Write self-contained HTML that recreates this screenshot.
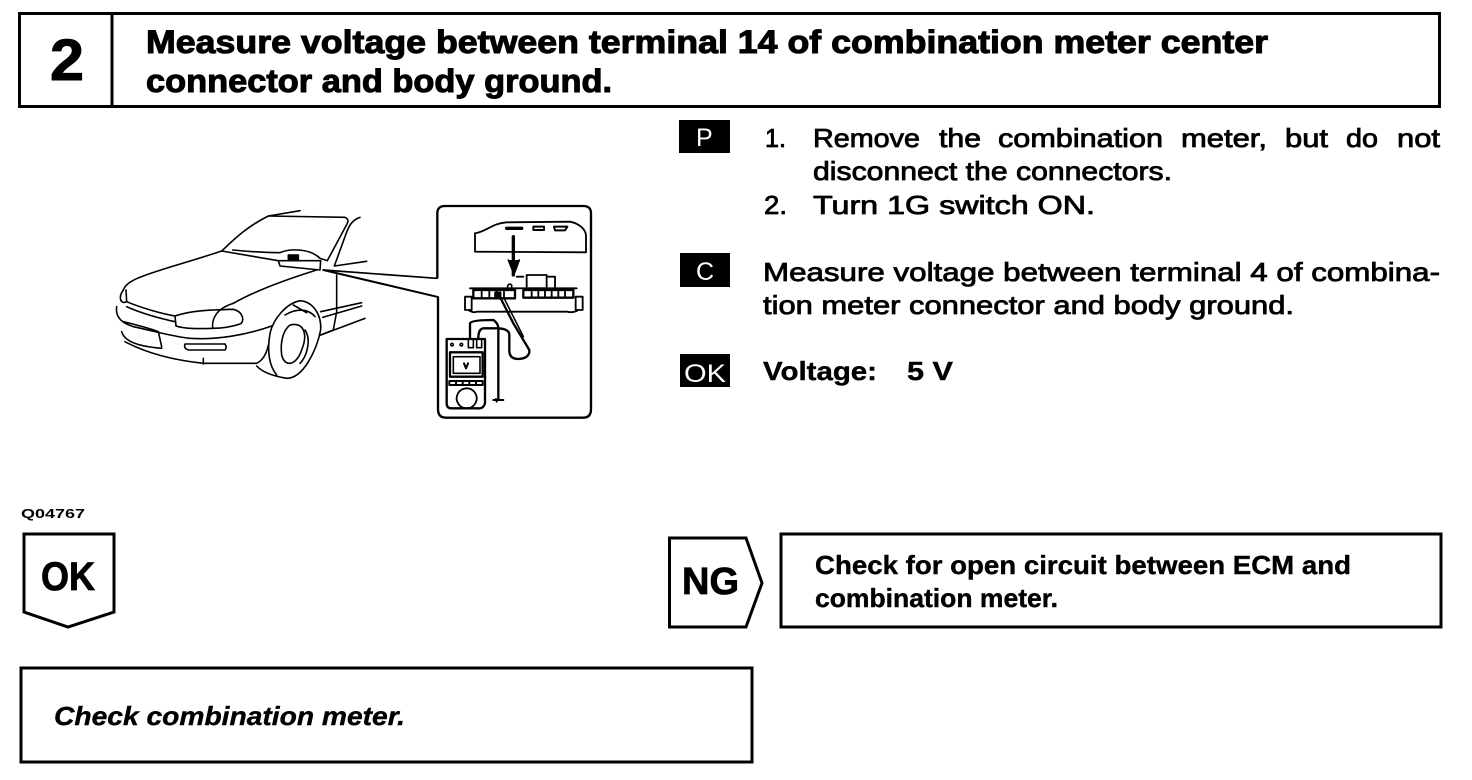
<!DOCTYPE html>
<html><head><meta charset="utf-8"><title>Step 2</title>
<style>
html,body{margin:0;padding:0;background:#fff;width:1472px;height:780px;overflow:hidden}
svg{display:block}
text{font-family:"Liberation Sans",sans-serif;fill:#000}
.t{font-weight:700;font-size:32px;stroke:#000;stroke-width:1px}
.b{font-size:26px;stroke:#000;stroke-width:.8px}
.n{font-weight:700;font-size:26px;stroke:#000;stroke-width:.4px}
.w{fill:#fff;font-size:25px}
.car path{fill:none;stroke:#000;stroke-width:4.8;stroke-linecap:round;stroke-linejoin:round}
</style></head><body>
<svg width="1472" height="780" viewBox="0 0 1472 780" xmlns="http://www.w3.org/2000/svg">
<rect width="1472" height="780" fill="#fff"/>
<g fill="none" stroke="#000" stroke-width="3">
<rect x="19.500" y="13.500" width="1420" height="93"/>
<path d="M112 14V106"/>
<path d="M24 534H114V612L68 627 24 612Z"/>
<path d="M669.500 538H746L762 583 746 627H669.500Z"/>
<rect x="781" y="534" width="660" height="93"/>
<rect x="21" y="668" width="731" height="94"/>
</g>
<text x="50" y="80" font-size="58" font-weight="700" textLength="34" lengthAdjust="spacingAndGlyphs" stroke="#000" stroke-width="1">2</text>
<text class="t" x="146" y="53" textLength="1122" lengthAdjust="spacingAndGlyphs">Measure voltage between terminal 14 of combination meter center</text>
<text class="t" x="146" y="92" textLength="466" lengthAdjust="spacingAndGlyphs">connector and body ground.</text>

<rect x="679" y="120" width="51" height="33"/>
<rect x="680" y="253" width="50" height="34"/>
<rect x="680" y="354" width="50" height="33"/>
<text class="w" x="696" y="146">P</text>
<text class="w" x="696" y="280">C</text>
<text class="w" x="684" y="382" textLength="42" lengthAdjust="spacingAndGlyphs">OK</text>

<text class="b" x="765" y="147" textLength="21" lengthAdjust="spacingAndGlyphs">1.</text>
<text class="b" x="813" y="147" textLength="107" lengthAdjust="spacingAndGlyphs">Remove</text>
<text class="b" x="939" y="147" textLength="42" lengthAdjust="spacingAndGlyphs">the</text>
<text class="b" x="998" y="147" textLength="165" lengthAdjust="spacingAndGlyphs">combination</text>
<text class="b" x="1181" y="147" textLength="86" lengthAdjust="spacingAndGlyphs">meter,</text>
<text class="b" x="1285" y="147" textLength="43" lengthAdjust="spacingAndGlyphs">but</text>
<text class="b" x="1346" y="147" textLength="32" lengthAdjust="spacingAndGlyphs">do</text>
<text class="b" x="1397" y="147" textLength="43" lengthAdjust="spacingAndGlyphs">not</text>
<text class="b" x="813" y="180" textLength="359" lengthAdjust="spacingAndGlyphs">disconnect the connectors.</text>
<text class="b" x="764" y="214" textLength="23" lengthAdjust="spacingAndGlyphs">2.</text>
<text class="b" x="813" y="214" textLength="282" lengthAdjust="spacingAndGlyphs">Turn 1G switch ON.</text>
<text class="b" x="763" y="281" textLength="677" lengthAdjust="spacingAndGlyphs">Measure voltage between terminal 4 of combina-</text>
<text class="b" x="763" y="314" textLength="531" lengthAdjust="spacingAndGlyphs">tion meter connector and body ground.</text>
<text class="n" x="763" y="380" textLength="114" lengthAdjust="spacingAndGlyphs">Voltage:</text>
<text class="n" x="907" y="380" textLength="46" lengthAdjust="spacingAndGlyphs">5 V</text>

<text x="21" y="518" font-size="13" font-weight="700" textLength="64" lengthAdjust="spacingAndGlyphs">Q04767</text>
<text x="41" y="590" font-size="40" font-weight="700" textLength="54" lengthAdjust="spacingAndGlyphs" stroke="#000" stroke-width=".8">OK</text>
<text x="682" y="594" font-size="38" font-weight="700" textLength="57" lengthAdjust="spacingAndGlyphs" stroke="#000" stroke-width=".8">NG</text>
<text class="n" x="815" y="574" textLength="536" lengthAdjust="spacingAndGlyphs">Check for open circuit between ECM and</text>
<text class="n" x="815" y="607" textLength="243" lengthAdjust="spacingAndGlyphs">combination meter.</text>
<text class="n" x="54" y="725" font-style="italic" textLength="351" lengthAdjust="spacingAndGlyphs">Check combination meter.</text>

<g class="car" transform="translate(90 190) scale(.33333)">
<path d="M395 183C430 150 470 110 535 78L630 62"/>
<path d="M535 78L765 82Q778 88 772 100L712 212"/>
<path d="M810 82C785 90 775 110 765 140L733 228 830 214"/>
<path d="M428 180C480 185 540 188 570 188 600 175 660 175 690 205L712 212"/>
<path d="M395 183L565 212M565 212L570 228 690 240 692 212 565 212"/>
<path d="M595 195H625V208H595Z" style="fill:#000"/>
<path d="M395 183C300 215 220 235 160 258 125 270 105 285 100 300"/>
<path d="M100 300C85 320 90 345 110 335L108 300"/>
<path d="M110 335C150 352 210 370 255 378"/>
<path d="M110 350C150 368 210 385 255 395"/>
<path d="M80 350C75 385 100 400 130 410 200 425 250 440 300 445 380 450 470 435 545 408"/>
<path d="M100 395C140 405 180 415 205 425L215 470"/>
<path d="M95 425C105 460 160 470 215 475"/>
<path d="M105 455C170 490 250 510 340 520H500C520 510 530 490 535 465"/>
<path d="M255 378C300 362 350 360 430 358 460 365 465 395 450 402 420 412 390 415 368 415"/>
<path d="M255 378L258 408C290 418 330 416 368 415 365 385 380 355 430 340"/>
<path d="M430 340C500 300 600 265 680 240"/>
<path d="M285 462H405Q412 472 405 480H295Q280 475 285 462Z"/>
<path d="M340 505V522"/>
<path d="M500 528C520 550 560 560 590 565 640 565 680 480 692 420 695 375 670 335 630 332 590 340 550 385 540 430 530 490 540 530 560 555"/>
<path d="M585 375C610 360 650 350 675 380"/>
<path d="M610 345L650 368"/>
<path d="M600 405C640 395 655 430 635 480 620 525 585 535 575 495 570 455 580 420 600 405Z"/>
<path d="M645 420C665 450 650 500 630 520"/>
<path d="M740 255V365L730 420 692 435"/>
<path d="M692 365L815 338M698 382L815 348"/>
<path d="M692 435L825 385"/>
<path d="M700 240L1040 265" style="stroke-width:5"/>
<path d="M700 240L1040 320" style="stroke-width:6"/>
</g>

<g class="car" transform="translate(430 195) scale(.33333)">
<path style="stroke-width:7" d="M22 248V55Q22 33 45 33H460Q483 33 483 55V642Q483 668 460 668H48Q24 668 24 642V307"/>
<path style="stroke-width:5.500" d="M135 115C170 110 185 85 230 82L420 80C445 85 465 100 468 120V172L135 170Z"/>
<path style="stroke-width:10" d="M230 100H275"/>
<path style="stroke-width:6" d="M310 95H342V105H310ZM372 95H412L405 106H375Z"/>
<path style="stroke-width:10" d="M250 125V240"/>
<path d="M235 195L252 238 268 195" style="fill:#000"/>
<path style="stroke-width:5.500" d="M260 245H280M290 240H350V280H290ZM355 245H375V275"/>
<path d="M232 278Q235 262 245 270L245 280"/>
<path style="stroke-width:5.500" d="M120 280H440M105 305H125V345H105ZM437 305H458V345H437ZM115 345Q130 355 140 350H410Q430 355 445 345"/>
<path style="stroke-width:7" d="M130 285H255V310H130ZM280 285H430V308H280Z"/>
<path style="stroke-width:5.500" d="M155 285V310M178 285V310M200 285V310M222 285V310M305 285V308M325 285V308M345 285V308M365 285V308M385 285V308M405 285V308"/>
<path style="fill:#000" d="M195 292H212V308H195Z"/>
<path style="stroke-width:7" d="M212 310L250 385 298 465Q300 490 265 492 240 492 238 470V420Q238 402 205 400H160Q145 402 145 430"/>
<path d="M225 315L280 425"/>
<path style="stroke-width:7" d="M120 430V385Q125 375 190 375 205 385 205 400V610"/>
<path style="stroke-width:6" d="M190 615H220M198 612L200 620"/>
<path style="stroke-width:7" d="M50 432H165V625Q160 642 145 640H65Q50 640 50 625Z"/>
<path d="M115 432H130V458H115ZM140 432H155V458H140Z"/>
<path d="M66 445a4 4 0 1 0 .1 0M94 445a4 4 0 1 0 .1 0"/>
<path style="stroke-width:7" d="M60 472H158V545H60Z"/>
<path d="M70 485H150V535H70Z"/>
<path style="stroke-width:6" d="M102 505L108 520 114 505"/>
<path style="stroke-width:6" d="M58 558H158V570H58ZM78 558V570M98 558V570M118 558V570M138 558V570"/>
<path style="stroke-width:5.500" d="M110 580a30 30 0 1 0 .1 0"/>
</g>
</svg>
</body></html>
